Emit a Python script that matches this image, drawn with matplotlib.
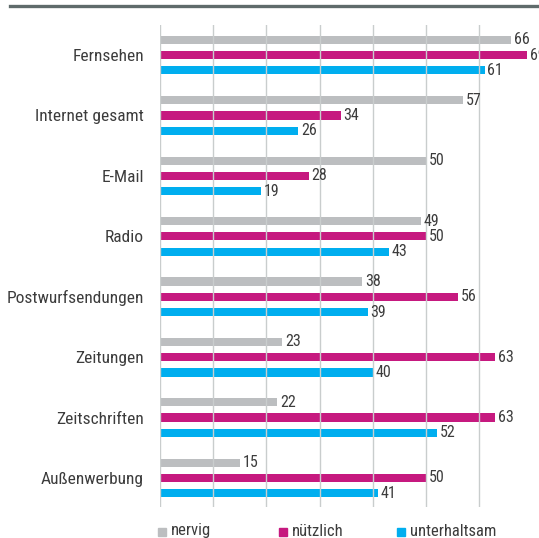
import matplotlib
matplotlib.use("Agg")
import matplotlib.pyplot as plt
from matplotlib.patches import Rectangle
from matplotlib.lines import Line2D
import numpy as np

plt.rcParams['font.family'] = ['Roboto Condensed', 'DejaVu Sans']
plt.rcParams['font.weight'] = 'normal'

categories = ["Fernsehen", "Internet gesamt", "E-Mail", "Radio",
              "Postwurfsendungen", "Zeitungen", "Zeitschriften", "Außenwerbung"]
series_names = ["nervig", "nützlich", "unterhaltsam"]
nervig = [66, 57, 50, 49, 38, 23, 22, 15]
nuetzlich = [69, 34, 28, 50, 56, 63, 63, 50]
unterhaltsam = [61, 26, 19, 43, 39, 40, 52, 41]
colors = ["#bcbec0", "#c6197f", "#00aeef"]
grid_ticks = [0, 10, 20, 30, 40, 50, 60]

W, H = 539, 538
fig = plt.figure(figsize=(W / 100, H / 100), dpi=100)
ax = fig.add_axes([160 / W, 1 - 507 / H, 379 / W, 482 / H])

n = len(categories)
y = np.arange(n)
offsets = [-0.253, 0.0, 0.253]
bh = 0.135
txtc = "#3c3c3c"
for vals, off, col in zip([nervig, nuetzlich, unterhaltsam], offsets, colors):
    ax.barh(y + off, vals, height=bh, color=col, zorder=2)
    for yy, v in zip(y + off, vals):
        ax.text(v + 0.5, yy, str(v), va="center", ha="left", fontsize=11.5,
                color=txtc, clip_on=False, zorder=5)

for t in grid_ticks:
    ax.axvline(t, color="#c9cdcd", lw=1.0, zorder=3)

ax.set_xlim(0, 71.2)
ax.set_ylim(n - 1 + 0.48, -0.497)
ax.set_yticks(y)
ax.set_yticklabels(categories, fontsize=12.5, color=txtc)
ax.tick_params(axis="y", length=0, pad=11.5)
ax.set_xticks([])
for s in ax.spines.values():
    s.set_visible(False)

# top rule
fig.add_artist(Line2D([10 / W, 1], [1 - 6 / H, 1 - 6 / H], color="#5f6b6b", lw=2.4))

# legend
leg_x = [158, 279, 397]
for name, col, lx in zip(series_names, colors, leg_x):
    fig.add_artist(Rectangle((lx / W, 1 - 536 / H), 8 / W, 8 / H, color=col,
                             transform=fig.transFigure))
    fig.text((lx + 13) / W, 1 - 531 / H, name, va="center", ha="left",
             fontsize=12, color=txtc)

fig.savefig("out.png", dpi=100)
